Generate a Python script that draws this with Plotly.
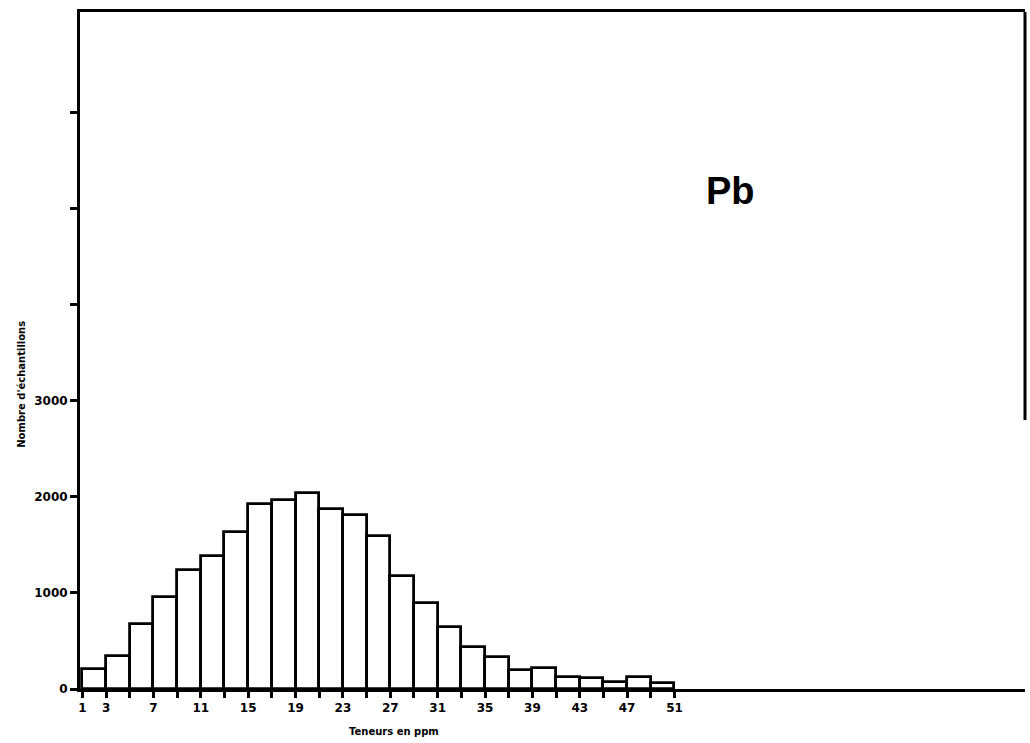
import plotly.graph_objects as go

# Pb contents histogram: classes of 2 ppm from 1 to 51 ppm
class_centres = [2, 4, 6, 8, 10, 12, 14, 16, 18, 20, 22, 24, 26,
                 28, 30, 32, 34, 36, 38, 40, 42, 44, 46, 48, 50]
counts = [210, 340, 680, 960, 1240, 1390, 1640, 1930, 1970, 2040, 1870, 1810, 1590,
          1180, 900, 650, 440, 330, 200, 220, 130, 110, 70, 130, 60]
class_width = 2

x_tick_vals = [1, 3, 5, 7, 9, 11, 13, 15, 17, 19, 21, 23, 25, 27, 29, 31, 33, 35,
               37, 39, 41, 43, 45, 47, 49, 51]
x_tick_text = ["1", "3", "", "7", "", "11", "", "15", "", "19", "", "23", "", "27",
               "", "31", "", "35", "", "39", "", "43", "", "47", "", "51"]
y_tick_vals = [0, 1000, 2000, 3000, 4000, 5000, 6000]
y_tick_text = ["0", "1000", "2000", "3000", "", "", ""]

fig = go.Figure()
fig.add_trace(go.Bar(
    x=class_centres,
    y=counts,
    width=class_width,
    marker=dict(color="white", line=dict(color="black", width=2.8)),
    showlegend=False,
    hoverinfo="x+y",
))

tick_font = dict(family="DejaVu Sans", size=12, color="black", weight="bold")

fig.update_layout(
    width=1030,
    height=743,
    margin=dict(l=80, r=5, t=12, b=54),
    paper_bgcolor="white",
    plot_bgcolor="white",
    bargap=0,
    xaxis=dict(
        range=[0.8, 80.6],
        tickmode="array",
        tickvals=x_tick_vals,
        ticktext=x_tick_text,
        ticks="outside",
        ticklen=6,
        tickwidth=2.5,
        tickcolor="black",
        tickfont=tick_font,
        showline=True,
        linecolor="black",
        linewidth=3,
        mirror=True,
        showgrid=False,
        zeroline=False,
    ),
    yaxis=dict(
        range=[0, 7050],
        tickmode="array",
        tickvals=y_tick_vals,
        ticktext=y_tick_text,
        ticks="outside",
        ticklen=7,
        tickwidth=2.5,
        tickcolor="black",
        tickfont=tick_font,
        showline=True,
        linecolor="black",
        linewidth=3,
        showgrid=False,
        zeroline=False,
    ),
    shapes=[
        # right-hand frame edge, drawn only over the upper part of the plot
        dict(type="line", xref="paper", yref="y", x0=1, x1=1, y0=2800, y1=7050,
             line=dict(color="black", width=3)),
    ],
    annotations=[
        dict(text="Pb", xref="paper", yref="paper", x=0.688, y=0.735,
             xanchor="center", yanchor="middle", showarrow=False,
             font=dict(family="Liberation Sans", size=38, color="black", weight="bold")),
        dict(text="Teneurs en ppm", xref="paper", yref="paper", x=0.332, y=-0.0635,
             xanchor="center", yanchor="middle", showarrow=False,
             font=dict(family="DejaVu Sans", size=10, color="black", weight="bold")),
        dict(text="Nombre d'échantillons", xref="paper", yref="paper", x=-0.062, y=0.45,
             xanchor="center", yanchor="middle", textangle=-90, showarrow=False,
             font=dict(family="DejaVu Sans", size=10, color="black", weight="bold")),
    ],
)

fig.write_html("out.html")
